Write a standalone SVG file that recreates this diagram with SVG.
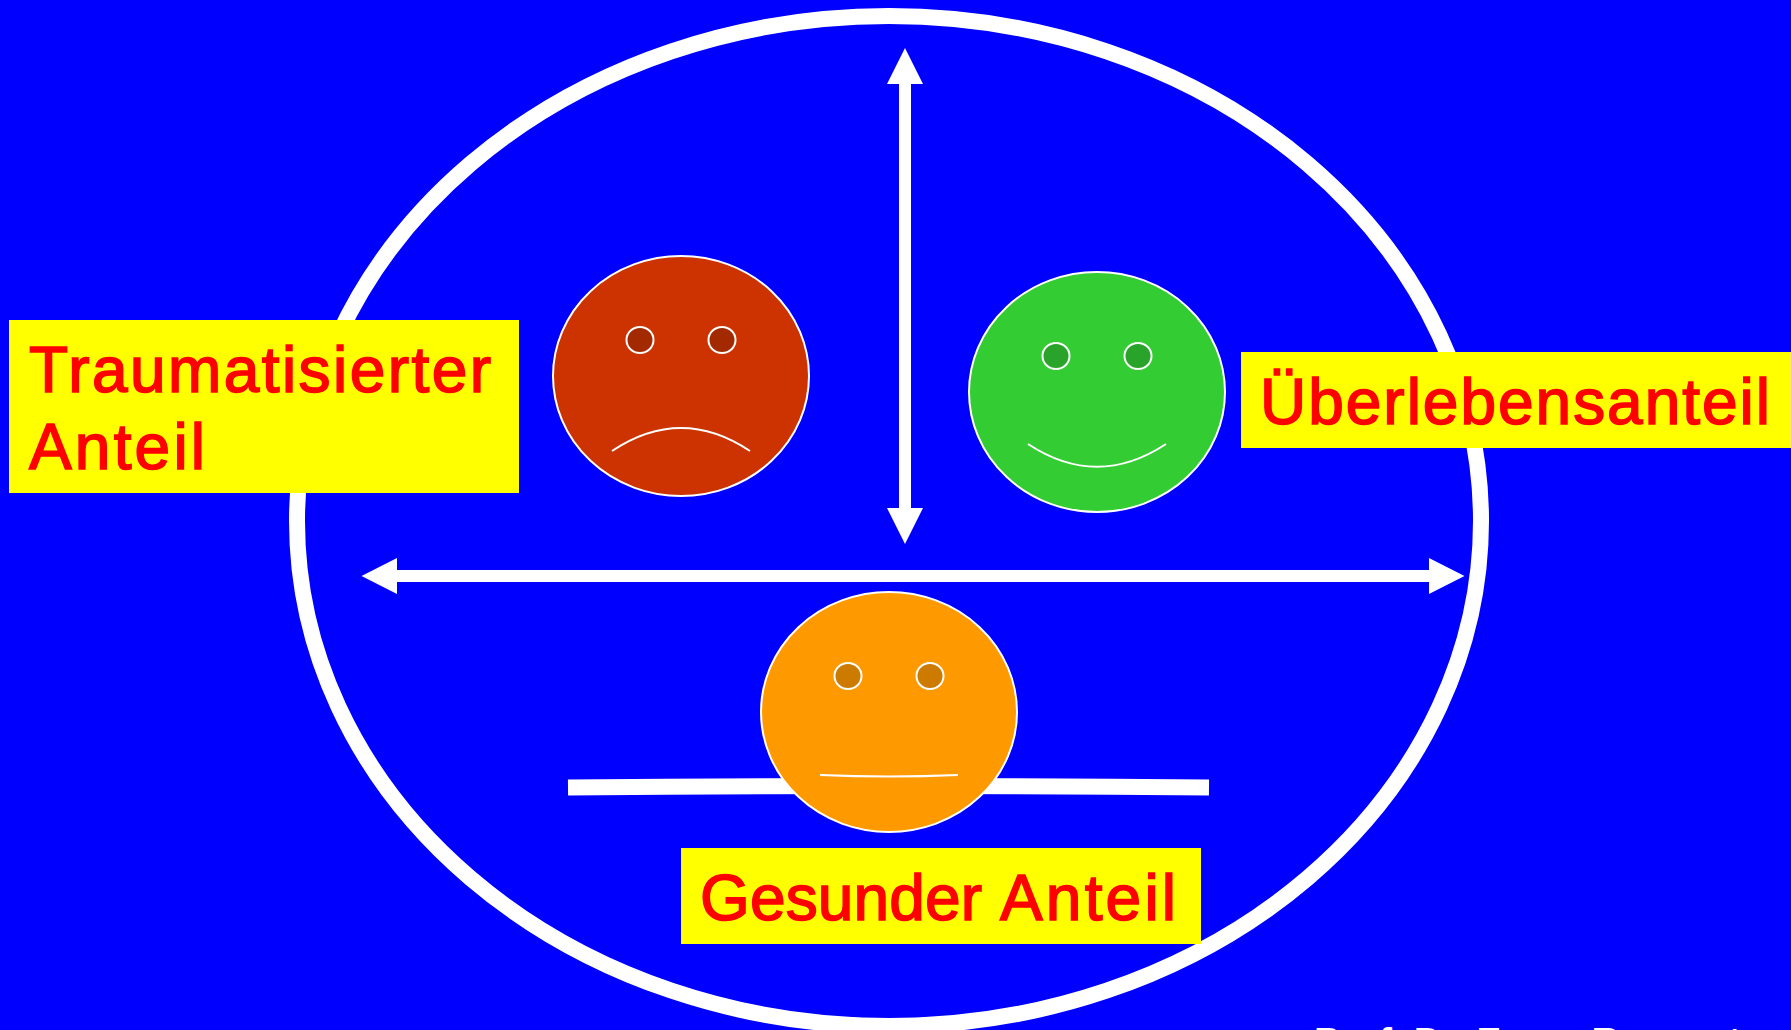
<svg xmlns="http://www.w3.org/2000/svg" width="1791" height="1030" viewBox="0 0 1791 1030">
<style>
.ring{fill:none;stroke:#fff;stroke-width:16}
.arrow{fill:#fff;stroke:none}
.bar{fill:none;stroke:#fff;stroke-width:16}
.face{stroke:#fff;stroke-width:2}
.eye{stroke:#fff;stroke-width:2}
.mouth{fill:none;stroke:#fff;stroke-width:2}
.box{fill:#ffff00}
.label{font-family:"Liberation Sans",Arial,sans-serif;font-size:64px;fill:#ff0000;stroke:#ff0000;stroke-width:1.6px}
.credit{font-family:"Liberation Sans",Arial,sans-serif;font-size:39px;font-weight:bold;fill:#fff}
</style>
<rect width="1791" height="1030" fill="#0000ff"/>
<g id="connectors">
<ellipse class="ring" cx="889" cy="521" rx="592" ry="505"/>
<polygon class="arrow" points="905,48 923,84 911,84 911,508 923,508 905,544 887,508 899,508 899,84 887,84"/>
<polygon class="arrow" points="361.5,576 397,558 397,570 1429,570 1429,558 1464.5,576 1429,594 1429,582 397,582 397,594"/>
<path class="bar" d="M568 787.5Q888.5 784.5 1209 787.5"/>
</g>
<g id="face-traumatized">
<ellipse class="face" cx="681" cy="376" rx="128" ry="120" fill="#cc3300"/>
<ellipse class="eye" cx="640" cy="340" rx="13.5" ry="13" fill="#a32900"/>
<ellipse class="eye" cx="722" cy="340" rx="13.5" ry="13" fill="#a32900"/>
<path class="mouth" d="M612 451Q681 405 750 451"/>
</g>
<g id="face-survival">
<ellipse class="face" cx="1097" cy="392" rx="128" ry="120" fill="#33cc33"/>
<ellipse class="eye" cx="1056" cy="356" rx="13.5" ry="13" fill="#29a329"/>
<ellipse class="eye" cx="1138" cy="356" rx="13.5" ry="13" fill="#29a329"/>
<path class="mouth" d="M1028 444Q1097 489.5 1166 444"/>
</g>
<g id="face-healthy">
<ellipse class="face" cx="889" cy="712" rx="128" ry="120" fill="#ff9900"/>
<ellipse class="eye" cx="848" cy="676" rx="13.5" ry="13" fill="#cc7a00"/>
<ellipse class="eye" cx="930" cy="676" rx="13.5" ry="13" fill="#cc7a00"/>
<path class="mouth" d="M820 775Q889 778 958 775"/>
</g>
<g id="label-traumatized">
<rect class="box" x="9" y="320" width="510" height="173"/>
<text class="label" x="29" y="391.5" textLength="462">Traumatisierter</text>
<text class="label" x="29" y="468.5" textLength="176">Anteil</text>
</g>
<g id="label-survival">
<rect class="box" x="1241" y="352" width="550" height="96"/>
<text class="label" x="1260" y="423.5" textLength="510">Überlebensanteil</text>
</g>
<g id="label-healthy">
<rect class="box" x="681" y="848" width="520" height="96"/>
<text class="label" y="919.5"><tspan x="700" textLength="282">Gesunder</tspan> <tspan x="1000" textLength="176">Anteil</tspan></text>
</g>
<text class="credit" id="credit" x="1314" y="1055">Prof. Dr. Franz Ruppert</text>
</svg>
